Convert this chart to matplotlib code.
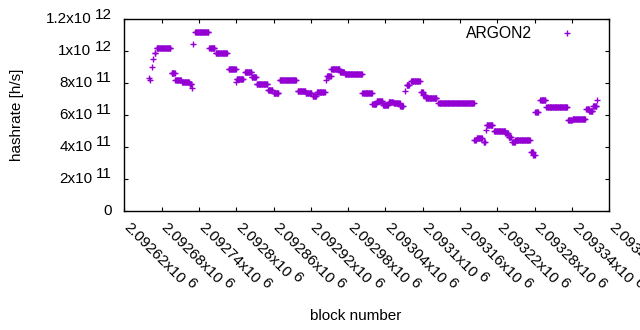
import numpy as np
import matplotlib
matplotlib.use("Agg")
import matplotlib.pyplot as plt
from matplotlib.font_manager import FontProperties

plt.rcParams['font.family'] = ['Liberation Sans', 'DejaVu Sans']

# hashrate runs: block range [start, end] with a constant value (x1e11 h/s)
run_start = [2092660, 2092662, 2092664, 2092666, 2092669, 2092672, 2092696, 2092702,
             2092713, 2092725, 2092729, 2092731, 2092734, 2092757, 2092767, 2092788,
             2092800, 2092801, 2092814, 2092825, 2092833, 2092851, 2092860, 2092870,
             2092899, 2092912, 2092923, 2092930, 2092944, 2092946, 2092953, 2092967,
             2092975, 2093003, 2093019, 2093026, 2093036, 2093045, 2093053, 2093064,
             2093072, 2093074, 2093081, 2093097, 2093101, 2093105, 2093125, 2093183,
             2093187, 2093198, 2093201, 2093203, 2093215, 2093233, 2093238, 2093244,
             2093249, 2093274, 2093278, 2093281, 2093289, 2093299, 2093334, 2093341,
             2093363, 2093368, 2093374, 2093381]
run_end = [2092660, 2092662, 2092664, 2092666, 2092670, 2092694, 2092701, 2092711,
           2092724, 2092728, 2092729, 2092731, 2092755, 2092765, 2092785, 2092799,
           2092800, 2092811, 2092824, 2092832, 2092850, 2092858, 2092868, 2092896,
           2092911, 2092921, 2092928, 2092942, 2092944, 2092952, 2092966, 2092973,
           2093002, 2093018, 2093025, 2093035, 2093044, 2093052, 2093063, 2093068,
           2093072, 2093078, 2093095, 2093100, 2093104, 2093122, 2093182, 2093185,
           2093195, 2093200, 2093201, 2093212, 2093232, 2093237, 2093242, 2093248,
           2093272, 2093277, 2093280, 2093285, 2093297, 2093332, 2093340, 2093361,
           2093367, 2093373, 2093379, 2093381]
run_value = [8.31, 8.19, 9.0, 9.53, 9.9, 10.23, 8.67, 8.23,
             8.07, 7.92, 7.72, 10.44, 11.175, 10.22, 9.86, 8.92,
             8.09, 8.29, 8.71, 8.375, 7.94, 7.59, 7.36, 8.17,
             7.54, 7.36, 7.22, 7.48, 8.19, 8.44, 8.86, 8.69,
             8.56, 7.36, 6.72, 6.91, 6.63, 6.81, 6.73, 6.59,
             7.5, 7.88, 8.125, 7.48, 7.29, 7.08, 6.73, 4.44,
             4.56, 4.34, 5.04, 5.375, 5.02, 4.86, 4.64, 4.29,
             4.42, 3.69, 3.5, 6.21, 6.94, 6.54, 5.67, 5.79,
             6.41, 6.27, 6.56, 6.94]

xticks = [2092620 + 60 * k for k in range(14)]
xtick_base = ['2.09262x10', '2.09268x10', '2.09274x10', '2.0928x10', '2.09286x10',
              '2.09292x10', '2.09298x10', '2.09304x10', '2.0931x10', '2.09316x10',
              '2.09322x10', '2.09328x10', '2.09334x10', '2.0934x10']
xtick_exp = ['6'] * 14
yticks = [0, 2e11, 4e11, 6e11, 8e11, 1e12, 1.2e12]
ytick_base = ['0', '2x10', '4x10', '6x10', '8x10', '1x10', '1.2x10']
ytick_exp = ['', '11', '11', '11', '11', '12', '12']

blocks = np.concatenate([np.arange(s, e + 1) for s, e in zip(run_start, run_end)])
rates = np.concatenate([np.full(e - s + 1, v) for s, e, v in zip(run_start, run_end, run_value)]) * 1e11

fig = plt.figure(figsize=(6.4, 3.3), dpi=100)
ax = fig.add_axes([0.1942, 0.3606, 0.7578, 0.5809])

ax.plot(blocks, rates, '+', linestyle='none', color='#9400d3', ms=5, mew=1.0, label='ARGON2')

ax.set_xlim(2092620, 2093400)
ax.set_ylim(0, 1.2e12)
ax.set_xticks(xticks)
ax.set_yticks(yticks)
ax.tick_params(direction='in', top=True, right=True, length=3, width=0.8,
               labelbottom=False, labelleft=False)
for sp in ax.spines.values():
    sp.set_linewidth(1.0)

# tick labels in gnuplot style: mantissa plus a full-size raised exponent
fs = 11
fp = FontProperties(family='Liberation Sans', size=fs)
renderer = fig.canvas.get_renderer()
def text_w(s):
    return renderer.get_text_width_height_descent(s, fp, ismath=False)[0] * 72 / fig.dpi

gap, rise = 2.4, 3.4
ytr = ax.get_yaxis_transform()
for v, b, e in zip(yticks, ytick_base, ytick_exp):
    xoff = -9.0
    if e:
        ax.annotate(e, (0, v), xycoords=ytr, xytext=(xoff, rise), textcoords='offset points',
                    ha='right', va='center', fontsize=fs)
        xoff -= text_w(e) + gap
    ax.annotate(b, (0, v), xycoords=ytr, xytext=(xoff, 0), textcoords='offset points',
                ha='right', va='center', fontsize=fs)

xtr = ax.get_xaxis_transform()
ang = np.deg2rad(-45)
ux, uy = np.cos(ang), np.sin(ang)
px, py = -uy, ux
pad = 12.0
for t, b, e in zip(xticks, xtick_base, xtick_exp):
    ax.annotate(b, (t, 0), xycoords=xtr, xytext=(-0.8, -pad), textcoords='offset points',
                rotation=-45, rotation_mode='anchor', ha='left', va='baseline', fontsize=fs,
                annotation_clip=False)
    w = text_w(b) + gap
    ax.annotate(e, (t, 0), xycoords=xtr,
                xytext=(-0.8 + w * ux + rise * px, -pad + w * uy + rise * py),
                textcoords='offset points', rotation=-45, rotation_mode='anchor',
                ha='left', va='baseline', fontsize=fs, annotation_clip=False)

ax.set_xlabel('block number', fontsize=11)
ax.set_ylabel('hashrate [h/s]', fontsize=11)
ax.xaxis.set_label_coords(0.4767, -0.51)
ax.yaxis.set_label_coords(-0.207, 0.5)

ax.legend(loc='upper right', frameon=False, markerfirst=False, fontsize=11.3,
          handlelength=2.0, handletextpad=1.25, borderpad=0, borderaxespad=0,
          bbox_to_anchor=(0.946, 0.965))

fig.savefig('out.png', dpi=100)
